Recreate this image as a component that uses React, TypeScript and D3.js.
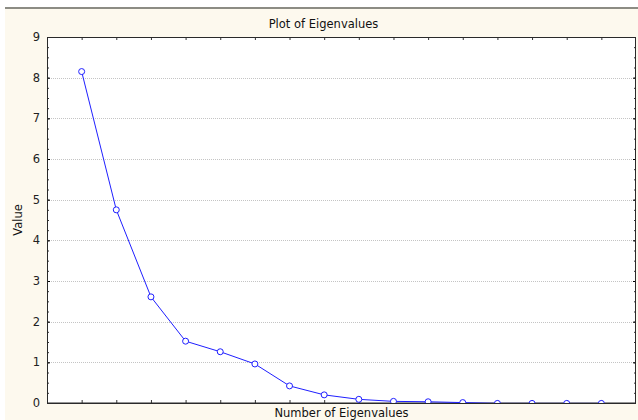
import React, { useEffect, useRef } from 'react';
import * as d3 from 'd3';

// eigenvalue number on x, value on y
const eigenNumbers = [1, 2, 3, 4, 5, 6, 7, 8, 9, 10, 11, 12, 13, 14, 15, 16];
const eigenValues = [8.15, 4.75, 2.61, 1.52, 1.26, 0.96, 0.42, 0.2, 0.09, 0.04, 0.03, 0.01, -0.01, -0.01, -0.01, -0.01];
const yTicks = [0, 1, 2, 3, 4, 5, 6, 7, 8, 9];
const chartTitle = 'Plot of Eigenvalues';
const xLabel = 'Number of Eigenvalues';
const yLabel = 'Value';

export default function App() {
	const ref = useRef<SVGSVGElement>(null);

	useEffect(() => {
		var svg = d3.select(ref.current);
		svg.selectAll('*').remove();

		var width = 638;
		var height = 420;
		var margin = { top: 37, right: 2, bottom: 17, left: 47 };
		var plotW = width - margin.left - margin.right;
		var plotH = height - margin.top - margin.bottom;
		var font = 'Tahoma, "DejaVu Sans", Verdana, sans-serif';

		// window background
		svg.append('rect').attr('width', width).attr('height', height).attr('fill', '#ffffff');
		svg.append('rect').attr('x', 5).attr('y', 8).attr('width', width - 5).attr('height', height - 8).attr('fill', '#fdf9ee');
		svg.append('rect').attr('x', 5).attr('y', 7).attr('width', width - 5).attr('height', 2).attr('fill', '#8c8c84');

		var x = d3.scaleLinear().domain([0, 17]).range([0, plotW]);
		var y = d3.scaleLinear().domain([0, 9]).range([plotH, 0]);

		var plot = svg.append('g').attr('transform', `translate(${margin.left},${margin.top})`);
		plot.append('rect').attr('width', plotW).attr('height', plotH).attr('fill', '#ffffff');

		// dotted horizontal grid
		plot.selectAll('.grid')
			.data(yTicks.slice(1, -1))
			.enter()
			.append('line')
			.attr('x1', 0).attr('x2', plotW)
			.attr('y1', d => Math.round(y(d)) + 0.5).attr('y2', d => Math.round(y(d)) + 0.5)
			.attr('stroke', '#c4c4c4')
			.attr('stroke-dasharray', '1,1');

		// axes, ticks pointing inward
		var minor = d3.range(0, 9.01, 0.25);
		var yLeft = d3.axisRight(y).tickValues(minor).tickSize(2).tickFormat(() => '');
		var yRight = d3.axisLeft(y).tickValues(minor).tickSize(2).tickFormat(() => '');
		var xBottom = d3.axisTop(x).tickValues(eigenNumbers).tickSize(3).tickFormat(() => '');
		var xTop = d3.axisBottom(x).tickValues(eigenNumbers).tickSize(3).tickFormat(() => '');

		var axes = [
			plot.append('g').call(yLeft),
			plot.append('g').attr('transform', `translate(${plotW},0)`).call(yRight),
			plot.append('g').attr('transform', `translate(0,${plotH})`).call(xBottom),
			plot.append('g').call(xTop),
		];
		axes.forEach(a => {
			a.select('.domain').remove();
			a.selectAll('line').attr('stroke', '#333');
		});

		// majors a bit longer
		plot.append('g').call(d3.axisRight(y).tickValues(yTicks).tickSize(3).tickFormat(() => '')).select('.domain').remove();
		plot.append('g').attr('transform', `translate(${plotW},0)`).call(d3.axisLeft(y).tickValues(yTicks).tickSize(3).tickFormat(() => '')).select('.domain').remove();

		// y tick labels
		plot.selectAll('.ylab')
			.data(yTicks)
			.enter()
			.append('text')
			.text(d => d)
			.attr('x', -7)
			.attr('y', d => y(d) + 4)
			.attr('text-anchor', 'end')
			.attr('font-family', font)
			.attr('font-size', 11.5)
			.attr('fill', '#222');

		// frame
		plot.append('rect')
			.attr('x', 0.5).attr('y', 0.5)
			.attr('width', plotW - 1).attr('height', plotH - 0.5)
			.attr('fill', 'none')
			.attr('stroke', '#2a2a2a');

		// clipped series
		svg.append('clipPath').attr('id', 'plot-clip')
			.append('rect').attr('x', 0).attr('y', 0).attr('width', plotW).attr('height', plotH);

		var points = eigenNumbers.map((n, i) => ({ x: n, y: eigenValues[i] }));
		var series = plot.append('g').attr('clip-path', 'url(#plot-clip)');
		var line = d3.line<{ x: number, y: number }>().x(d => x(d.x)).y(d => y(d.y));
		series.append('path')
			.datum(points)
			.attr('d', line)
			.attr('fill', 'none')
			.attr('stroke', '#1f1fff')
			.attr('stroke-width', 1);
		series.selectAll('circle')
			.data(points)
			.enter()
			.append('circle')
			.attr('cx', d => x(d.x))
			.attr('cy', d => y(d.y))
			.attr('r', 3)
			.attr('fill', '#ffffff')
			.attr('stroke', '#1f1fff')
			.attr('stroke-width', 1);

		// redraw bottom line over the clipped points
		plot.append('line')
			.attr('x1', 0).attr('x2', plotW)
			.attr('y1', plotH + 0.5).attr('y2', plotH + 0.5)
			.attr('stroke', '#2a2a2a');

		// titles
		svg.append('text')
			.text(chartTitle)
			.attr('x', 323.5).attr('y', 28)
			.attr('text-anchor', 'middle')
			.attr('font-family', font)
			.attr('font-size', 11.5)
			.attr('fill', '#111');
		svg.append('text')
			.text(xLabel)
			.attr('x', margin.left + plotW / 2).attr('y', 417)
			.attr('text-anchor', 'middle')
			.attr('font-family', font)
			.attr('font-size', 11.5)
			.attr('fill', '#111');
		svg.append('text')
			.text(yLabel)
			.attr('text-anchor', 'middle')
			.attr('font-family', font)
			.attr('font-size', 11.5)
			.attr('fill', '#111')
			.attr('transform', `translate(21.5,${margin.top + plotH / 2}) rotate(-90)`);
	}, []);

	return (
		<svg ref={ref} width={638} height={420} style={{ position: 'absolute', left: 0, top: 0 }} />
	);
}
